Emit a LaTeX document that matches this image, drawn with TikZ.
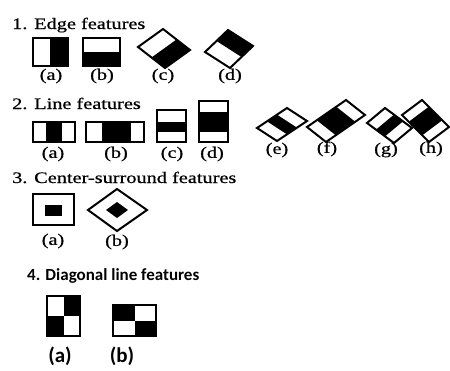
\documentclass[tikz,border=0pt]{standalone}
\usepackage{fontspec}
\setmainfont{Liberation Serif}[FakeBold=0.6]
\newfontfamily\calfont{Carlito}
\usetikzlibrary{calc}
\newcommand\wideT[1]{\scalebox{1.27}[1]{#1}}
\newcommand\parstrip[6]{\fill ($(#1)!#5!(#2)$) -- ($(#1)!#6!(#2)$) -- ($(#4)!#6!(#3)$) -- ($(#4)!#5!(#3)$) -- cycle;}
\newcommand\paroutline[4]{\draw[box] (#1) -- (#2) -- (#3) -- (#4) -- cycle;}
\begin{document}
\begin{tikzpicture}[x=1pt,y=-1pt,
  ttl/.style={anchor=base west,inner sep=0pt,font=\fontsize{16}{16}\selectfont},
  lbl/.style={anchor=center,inner sep=0pt,font=\fontsize{16}{16}\selectfont},
  ttlb/.style={anchor=base west,inner sep=0pt,font=\calfont\bfseries\fontsize{17}{17}\selectfont},
  lblb/.style={anchor=center,inner sep=0pt,font=\calfont\bfseries\fontsize{21}{21}\selectfont},
  box/.style={draw=black,line width=2pt,line join=miter}]
\useasboundingbox[fill=white] (0,0) rectangle (450,370);

% ---------- 1. Edge features
\node[ttl] (t1) at (12,29) {\wideT{1. Edge features}};
\fill (50,38) rectangle (68,66);
\draw[box] (33,38) rectangle (68,66);
\fill (83,52) rectangle (120,66);
\draw[box] (83,38) rectangle (120,66);
\coordinate (cL) at (138,47); \coordinate (cT) at (163,29);
\coordinate (cR) at (190,50); \coordinate (cB) at (165,68);
\parstrip{cL}{cB}{cR}{cT}{0.5}{1}
\paroutline{cL}{cT}{cR}{cB}
\coordinate (dL) at (205,52); \coordinate (dT) at (228,30);
\coordinate (dR) at (253,46); \coordinate (dB) at (230,68);
\parstrip{dL}{dT}{dR}{dB}{0.5}{1}
\paroutline{dL}{dT}{dR}{dB}
\node[lbl] (l1a) at (51,76) {\wideT{(a)}};
\node[lbl] (l1b) at (102,76) {\wideT{(b)}};
\node[lbl] (l1c) at (163,76) {\wideT{(c)}};
\node[lbl] (l1d) at (230,76) {\wideT{(d)}};

% ---------- 2. Line features
\node[ttl] (t2) at (12,109) {\wideT{2. Line features}};
\fill (46,122) rectangle (62,142);
\draw[box] (33,122) rectangle (75,142);
\fill (102,122) rectangle (131,142);
\draw[box] (86,122) rectangle (144,142);
\fill (157,122) rectangle (186,132);
\draw[box] (157,110) rectangle (186,142);
\fill (199,112) rectangle (228,132);
\draw[box] (199,101) rectangle (228,142);
\coordinate (eL) at (257,128); \coordinate (eT) at (287,108);
\coordinate (eR) at (307,121); \coordinate (eB) at (277,141);
\parstrip{eL}{eT}{eR}{eB}{0.333}{0.667}
\paroutline{eL}{eT}{eR}{eB}
\coordinate (fL) at (307,127); \coordinate (fT) at (346,100);
\coordinate (fR) at (365,115); \coordinate (fB) at (326,142);
\parstrip{fL}{fT}{fR}{fB}{0.25}{0.75}
\paroutline{fL}{fT}{fR}{fB}
\coordinate (gL) at (367,123); \coordinate (gT) at (385,108);
\coordinate (gR) at (412,128); \coordinate (gB) at (394,143);
\parstrip{gT}{gR}{gB}{gL}{0.333}{0.667}
\paroutline{gL}{gT}{gR}{gB}
\coordinate (hL) at (402,115); \coordinate (hT) at (422,100);
\coordinate (hR) at (449,127); \coordinate (hB) at (429,142);
\parstrip{hT}{hR}{hB}{hL}{0.25}{0.75}
\paroutline{hL}{hT}{hR}{hB}
\node[lbl] (l2a) at (53,154) {\wideT{(a)}};
\node[lbl] (l2b) at (116,154) {\wideT{(b)}};
\node[lbl] (l2c) at (172,154) {\wideT{(c)}};
\node[lbl] (l2d) at (212,154) {\wideT{(d)}};
\node[lbl] (l2e) at (277,150) {\wideT{(e)}};
\node[lbl] (l2f) at (327,149) {\wideT{(f)}};
\node[lbl] (l2g) at (386,150) {\wideT{(g)}};
\node[lbl] (l2h) at (431,149) {\wideT{(h)}};

% ---------- 3. Center-surround features
\node[ttl] (t3) at (12,183) {\wideT{3. Center-surround features}};
\draw[box] (33,194) rectangle (74,225);
\fill (45,205) rectangle (62,216);
\draw[box] (88,210) -- (117,189) -- (147,210) -- (117,231) -- cycle;
\fill (106,210) -- (117,202) -- (128,210) -- (117,218) -- cycle;
\node[lbl] (l3a) at (53,241) {\wideT{(a)}};
\node[lbl] (l3b) at (117,242) {\wideT{(b)}};

% ---------- 4. Diagonal line features
\node[ttlb] (t4) at (27,280) {4. Diagonal line features};
\fill (63.5,296) rectangle (80,316);
\fill (47,316) rectangle (63.5,336);
\draw[box] (47,296) rectangle (80,336);
\fill (113,305) rectangle (134.5,320.5);
\fill (134.5,320.5) rectangle (156,336);
\draw[box] (113,305) rectangle (156,336);
\node[lblb] (l4a) at (60,356) {(a)};
\node[lblb] (l4b) at (122,356) {(b)};
\end{tikzpicture}
\end{document}
